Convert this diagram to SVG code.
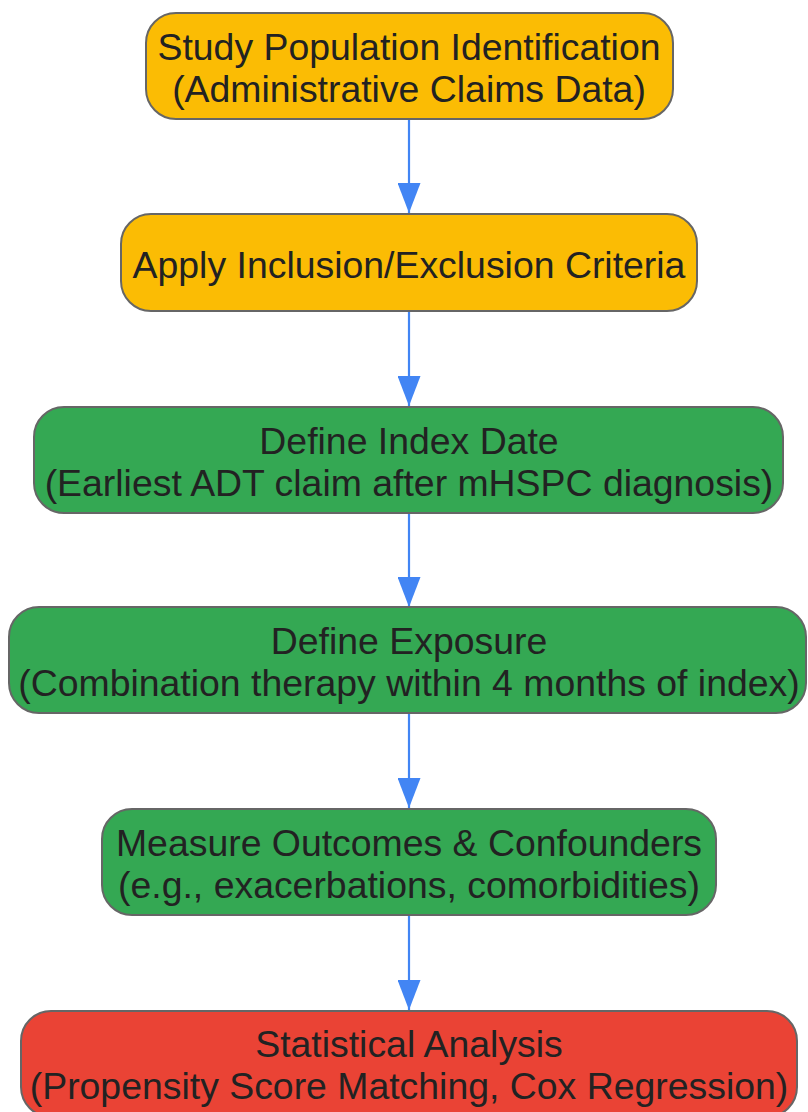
<svg xmlns="http://www.w3.org/2000/svg" width="808" height="1112" viewBox="0 0 808 1112">
  <style>
    .node rect { stroke: #666666; stroke-width: 2; }
    .yellow rect { fill: #FBBC04; }
    .green rect { fill: #34A853; }
    .red rect { fill: #EA4335; }
    .node text { font-family: "Liberation Sans", Arial, sans-serif; font-size: 37.4px; fill: #222222; text-anchor: middle; }
    .edge { stroke: #4285F4; stroke-width: 2.2; fill: none; marker-end: url(#arrow); }
  </style>
  <defs>
    <marker id="arrow" markerUnits="userSpaceOnUse" viewBox="0 0 30 23" markerWidth="30" markerHeight="23" refX="30" refY="11.5" orient="auto">
      <path d="M0,0 L30,11.5 L0,23 z" fill="#4285F4"/>
    </marker>
  </defs>
  <rect width="808" height="1112" fill="#ffffff"/>
  <g id="connectors">
    <line class="edge" x1="409" y1="119" x2="409" y2="213"/>
    <line class="edge" x1="409" y1="311" x2="409" y2="406"/>
    <line class="edge" x1="409" y1="513" x2="409" y2="607"/>
    <line class="edge" x1="409" y1="713" x2="409" y2="808"/>
    <line class="edge" x1="409" y1="915" x2="409" y2="1010"/>
  </g>
  <g id="n1" class="node yellow">
    <rect x="146" y="13" width="527" height="106" rx="30" ry="30"/>
    <text x="409" y="60">Study Population Identification</text>
    <text x="409" y="102">(Administrative Claims Data)</text>
  </g>
  <g id="n2" class="node yellow">
    <rect x="121" y="214" width="576" height="97" rx="30" ry="30"/>
    <text x="409" y="278">Apply Inclusion/Exclusion Criteria</text>
  </g>
  <g id="n3" class="node green">
    <rect x="34" y="407" width="749" height="106" rx="30" ry="30"/>
    <text x="409" y="454">Define Index Date</text>
    <text x="409" y="496">(Earliest ADT claim after mHSPC diagnosis)</text>
  </g>
  <g id="n4" class="node green">
    <rect x="9" y="607" width="797" height="106" rx="30" ry="30"/>
    <text x="409" y="654">Define Exposure</text>
    <text x="409" y="696">(Combination therapy within 4 months of index)</text>
  </g>
  <g id="n5" class="node green">
    <rect x="102" y="809" width="614" height="106" rx="30" ry="30"/>
    <text x="409" y="856">Measure Outcomes &amp; Confounders</text>
    <text x="409" y="898">(e.g., exacerbations, comorbidities)</text>
  </g>
  <g id="n6" class="node red">
    <rect x="21" y="1011" width="776" height="106" rx="30" ry="30"/>
    <text x="409" y="1057">Statistical Analysis</text>
    <text x="409" y="1099">(Propensity Score Matching, Cox Regression)</text>
  </g>
</svg>
